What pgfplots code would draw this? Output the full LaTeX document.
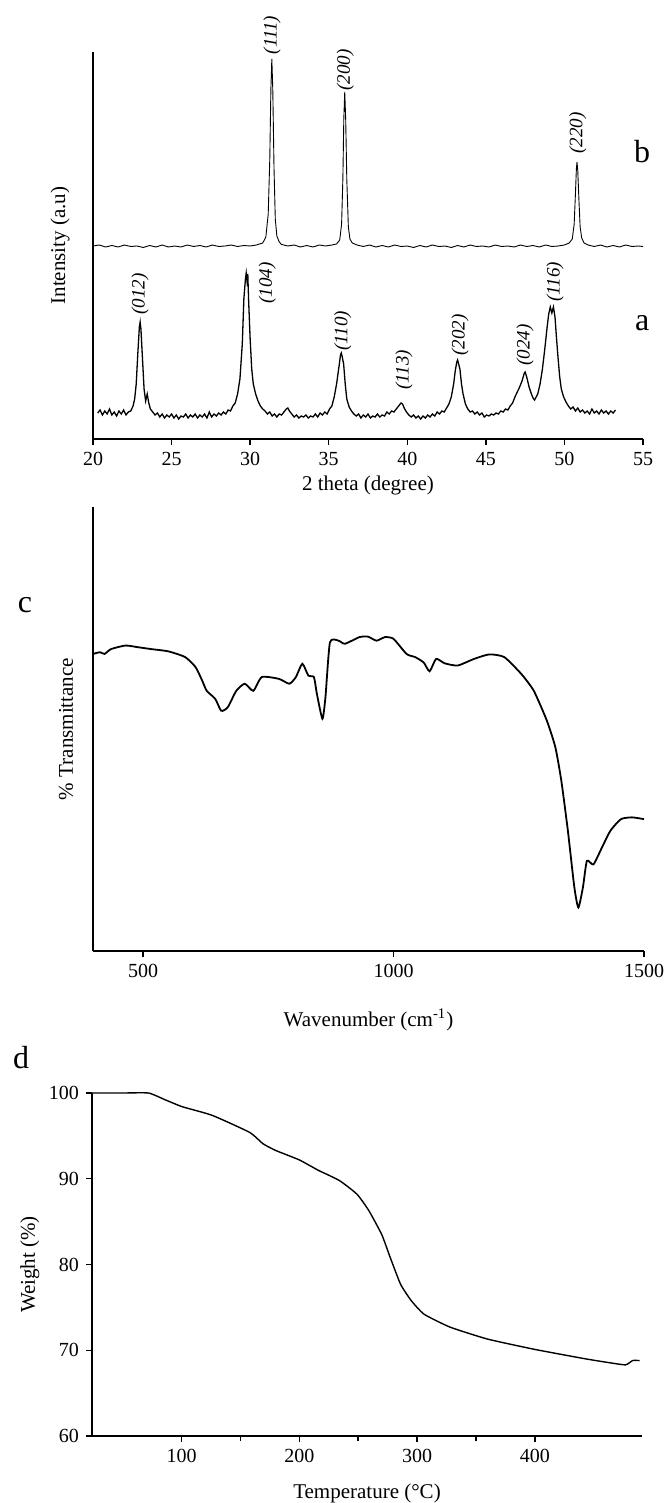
\documentclass[border=0pt]{standalone}
\usepackage{fontspec}
\setmainfont{Liberation Serif}
\usepackage{pgfplots}
\pgfplotsset{compat=1.18}

\pgfplotsset{
  panel/.style={
    scale only axis,
    axis x line=bottom, axis y line=left,
    axis line style={-, line width=0.8pt},
    tick align=outside,
    major tick length=3pt, minor tick length=2.5pt,
    every tick/.style={black, line width=0.7pt},
    enlargelimits=false,
    clip=false,
    tick label style={font=\fontsize{10}{11}\selectfont},
    label style={font=\fontsize{10.5}{12}\selectfont},
    /pgf/number format/assume math mode=true,
    /pgf/number format/set thousands separator={},
  },
}
\tikzset{hkl/.style={font=\fontsize{9.5}{10}\selectfont\itshape, rotate=90, anchor=center, inner sep=0pt}}

\begin{document}
\begin{tikzpicture}
\path[use as bounding box] (0,0) rectangle (333pt,-751.5pt);

% ---- XRD ----
\begin{axis}[panel,
  at={(46.5pt,-219.5pt)}, anchor=south west,
  width=275pt, height=193.5pt,
  xmin=20, xmax=55, ymin=0, ymax=387,
  xtick={20,25,...,55}, ytick=\empty,
  xlabel={2 theta (degree)},
  xlabel style={at={(axis description cs:0.5,0)}, anchor=center, yshift=-23pt},
  ylabel={Intensity (a.u)},
  ylabel style={at={(axis description cs:-0.06,0.5)}, anchor=center},
]
% pattern a
\addplot[black, line width=0.65pt] coordinates {
(20.3,26) (20.45,29) (20.6,24) (20.75,28) (20.9,25) (21.05,30) (21.2,24) (21.35,27)
(21.5,23) (21.65,28) (21.8,25) (21.95,29) (22.1,24) (22.25,27) (22.4,28) (22.55,33)
(22.65,40) (22.75,55) (22.85,85) (22.95,112) (23.0,117) (23.05,110) (23.15,80) (23.25,50)
(23.35,38) (23.45,45) (23.55,36) (23.65,30) (23.8,27) (23.95,24) (24.1,26) (24.25,22)
(24.4,25) (24.55,21) (24.7,24) (24.85,22) (25.0,25) (25.15,21) (25.3,24) (25.45,20)
(25.6,23) (25.75,22) (25.9,25) (26.05,21) (26.2,24) (26.35,22) (26.5,25) (26.65,21)
(26.8,24) (26.95,22) (27.1,25) (27.25,21) (27.4,27) (27.55,22) (27.7,25) (27.85,23)
(28.0,26) (28.15,24) (28.3,27) (28.45,25) (28.6,29) (28.75,28) (28.9,33) (29.05,36)
(29.2,45) (29.35,60) (29.5,95) (29.6,140) (29.7,160) (29.75,166) (29.8,158) (29.85,165)
(29.9,140) (30.0,100) (30.1,70) (30.2,55) (30.35,45) (30.5,38) (30.65,33) (30.8,30)
(30.95,28) (31.1,25) (31.25,27) (31.4,23) (31.55,25) (31.7,22) (31.85,25) (32.0,24)
(32.15,27) (32.3,30) (32.4,31) (32.5,28) (32.65,25) (32.8,22) (32.95,24) (33.1,21)
(33.25,23) (33.4,22) (33.55,24) (33.7,21) (33.85,23) (34.0,22) (34.15,25) (34.3,22)
(34.45,26) (34.6,24) (34.75,27) (34.9,25) (35.05,30) (35.2,33) (35.35,42) (35.5,55)
(35.65,72) (35.75,84) (35.8,86) (35.85,83) (35.95,75) (36.05,55) (36.15,40) (36.3,32)
(36.45,28) (36.6,25) (36.75,23) (36.9,25) (37.05,21) (37.2,24) (37.35,22) (37.5,25)
(37.65,21) (37.8,23) (37.95,22) (38.1,25) (38.25,22) (38.4,24) (38.55,23) (38.7,27)
(38.85,25) (39.0,28) (39.15,27) (39.3,30) (39.45,33) (39.6,36) (39.7,35) (39.8,31)
(39.95,27) (40.1,24) (40.25,22) (40.4,24) (40.55,21) (40.7,23) (40.85,20) (41.0,23)
(41.15,21) (41.3,24) (41.45,22) (41.6,25) (41.75,23) (41.9,27) (42.05,25) (42.2,28)
(42.35,27) (42.5,31) (42.65,35) (42.8,42) (42.95,55) (43.05,68) (43.15,77) (43.2,79)
(43.25,76) (43.35,70) (43.45,55) (43.55,45) (43.7,35) (43.85,30) (44.0,27) (44.15,28)
(44.3,25) (44.45,27) (44.6,24) (44.75,26) (44.9,22) (45.05,24) (45.2,23) (45.35,25)
(45.5,24) (45.65,26) (45.8,25) (45.95,28) (46.1,27) (46.25,30) (46.4,29) (46.55,33)
(46.7,36) (46.85,42) (47.0,47) (47.15,52) (47.3,58) (47.45,66) (47.5,67) (47.6,62)
(47.75,52) (47.9,45) (48.0,41) (48.1,39) (48.2,42) (48.3,45) (48.45,55) (48.6,70)
(48.75,90) (48.9,112) (49.0,125) (49.1,132) (49.2,126) (49.3,132) (49.4,122) (49.5,100)
(49.6,80) (49.7,62) (49.8,50) (49.95,42) (50.1,37) (50.25,33) (50.4,30) (50.55,32)
(50.7,28) (50.85,31) (51.0,27) (51.15,29) (51.3,26) (51.45,28) (51.6,25) (51.75,30)
(51.9,26) (52.05,28) (52.2,25) (52.35,29) (52.5,26) (52.65,28) (52.8,25) (52.95,28)
(53.1,26) (53.25,29)
};
% pattern b
\addplot[black, line width=0.45pt] coordinates {
(20.0,193) (20.4,194) (20.8,192) (21.2,193.5) (21.6,192) (22.0,194) (22.4,192.5) (22.8,193)
(23.2,191.5) (23.6,193.5) (24.0,192) (24.4,194) (24.8,192) (25.2,193) (25.6,192) (26.0,194)
(26.4,192.5) (26.8,193.5) (27.2,192) (27.6,194) (28.0,192.5) (28.4,193) (28.8,194) (29.2,192.5)
(29.6,193.5) (30.0,193) (30.4,194) (30.8,196) (31.0,202) (31.15,225) (31.25,280) (31.32,350)
(31.38,380) (31.44,350) (31.52,270) (31.6,220) (31.7,203) (31.85,197) (32.0,194.5) (32.4,193)
(32.8,194) (33.2,192) (33.6,193.5) (34.0,192) (34.4,194) (34.8,193) (35.2,194) (35.5,195)
(35.7,199) (35.82,215) (35.9,260) (35.96,320) (36.02,347) (36.08,320) (36.15,260) (36.25,212)
(36.35,200) (36.5,196) (36.8,194) (37.2,192.5) (37.6,194) (38.0,192) (38.4,193.5) (38.8,192)
(39.2,194) (39.6,192.5) (40.0,193) (40.4,191.5) (40.8,193.5) (41.2,192) (41.6,194) (42.0,192.5)
(42.4,193) (42.8,191.5) (43.2,193.5) (43.6,192) (44.0,194) (44.4,192.5) (44.8,193) (45.2,192)
(45.6,194) (46.0,192.5) (46.4,193) (46.8,192) (47.2,194) (47.6,192.5) (48.0,193.5) (48.4,192)
(48.8,194) (49.2,192.5) (49.6,193) (50.0,194) (50.3,196) (50.5,200) (50.62,215) (50.7,245)
(50.76,270) (50.8,277) (50.85,268) (50.92,240) (51.0,212) (51.1,201) (51.25,196) (51.5,194)
(51.9,192.5) (52.3,194) (52.7,192) (53.1,193.5) (53.5,192) (53.9,194) (54.3,192.5) (54.7,193)
(55.0,192.5)
};
\node[hkl] at (axis cs:31.4,404) {(111)};
\node[hkl] at (axis cs:36.05,369) {(200)};
\node[hkl] at (axis cs:50.85,306) {(220)};
\node[hkl] at (axis cs:23.0,145) {(012)};
\node[hkl] at (axis cs:31.1,156) {(104)};
\node[hkl] at (axis cs:35.9,108) {(110)};
\node[hkl] at (axis cs:39.8,69) {(113)};
\node[hkl] at (axis cs:43.35,104) {(202)};
\node[hkl] at (axis cs:47.5,94) {(024)};
\node[hkl] at (axis cs:49.4,157) {(116)};
\node[font=\fontsize{16}{17}\selectfont] at (axis cs:54.95,287) {b};
\node[font=\fontsize{16}{17}\selectfont] at (axis cs:54.95,116) {a};
\end{axis}

% ---- FTIR ----
\begin{axis}[panel,
  at={(46.5pt,-475.5pt)}, anchor=south west,
  width=275.5pt, height=222pt,
  xmin=400, xmax=1500, ymin=0, ymax=100,
  xtick={500,1000,1500}, ytick=\empty,
  xlabel={Wavenumber (cm\textsuperscript{-1})},
  xlabel style={at={(axis description cs:0.5,0)}, anchor=center, yshift=-34.5pt},
  ylabel={\% Transmittance},
  ylabel style={at={(axis description cs:-0.049,0.5)}, anchor=center},
]
\addplot[black, line width=0.9pt, smooth, tension=0.35] coordinates {
(400,66.9) (414,67.3) (423,66.9) (436,68.0) (465,68.8) (491,68.4) (516,68.0) (550,67.5)
(584,66.2) (605,63.9) (618,60.9) (627,58.6) (644,56.8) (656,54.1) (669,54.9) (686,58.6)
(703,60.2) (720,58.6) (737,61.7) (771,61.3) (792,60.2) (805,61.7) (818,64.7) (830,62.0)
(841,61.7) (847,57.9) (858,52.3) (864,57.1) (873,69.5) (890,69.9) (903,69.2) (932,70.7)
(949,70.8) (966,69.9) (983,70.7) (1000,70.3) (1026,66.9) (1043,66.2) (1060,65.0) (1072,63.0)
(1085,65.8) (1102,64.8) (1128,64.3) (1161,65.8) (1191,66.8) (1221,66.2) (1255,62.4) (1280,58.6)
(1306,51.9) (1323,45.9) (1335,38.3) (1348,27.1) (1361,14.3) (1369,9.8) (1378,14.3) (1386,20.3)
(1399,19.5) (1416,23.3) (1433,27.1) (1454,29.7) (1476,30.1) (1500,29.7)
};
\end{axis}

% ---- TGA ----
\begin{axis}[panel,
  at={(46pt,-718pt)}, anchor=south west,
  width=275pt, height=171.5pt,
  xmin=24, xmax=491, ymin=60, ymax=100,
  xtick={100,200,300,400}, minor x tick num=1,
  ytick={60,70,...,100},
  xlabel={Temperature (°C)},
  xlabel style={at={(axis description cs:0.5,0)}, anchor=center, yshift=-28.5pt},
  ylabel={Weight (\%)},
  ylabel style={at={(axis description cs:-0.113,0.5)}, anchor=center},
]
\addplot[black, line width=0.7pt, smooth, tension=0.3] coordinates {
(24,100) (50,100) (72,100) (86.3,99.2) (100.7,98.4) (126,97.4) (158,95.4) (169,94.1)
(180,93.3) (200,92.2) (216,91.0) (234,89.8) (249,88.2) (259,86.3) (270,83.5) (277,80.9)
(286,77.7) (295,75.8) (306,74.2) (328,72.7) (360,71.3) (400,70.1) (443,69.0) (461,68.6)
(477,68.3) (483,68.8) (489,68.8)
};
\end{axis}

\node[font=\fontsize{16}{17}\selectfont] at (12.5pt,-302.5pt) {c};
\node[font=\fontsize{16}{17}\selectfont] at (10.5pt,-529pt) {d};
\end{tikzpicture}
\end{document}
